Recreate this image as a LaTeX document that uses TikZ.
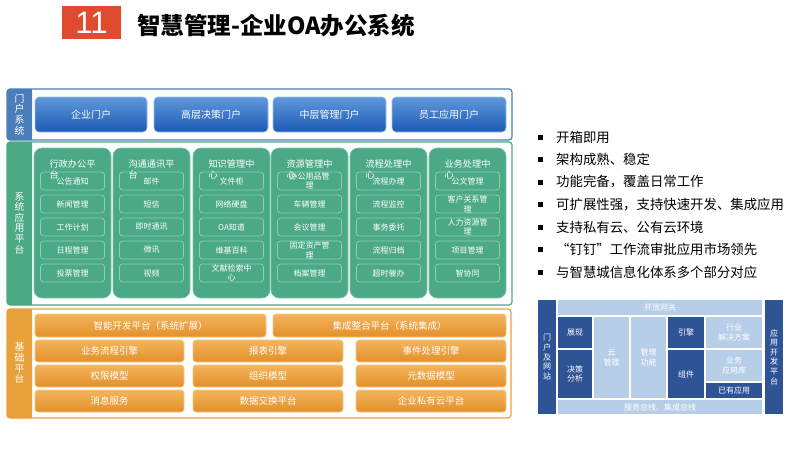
\documentclass[tikz,border=0pt]{standalone}
\usepackage{fontspec}
\setmainfont{Noto Sans CJK SC}
\newfontfamily\numfont{Liberation Sans}
\definecolor{hdred}{HTML}{E04B2F}
\definecolor{portc}{HTML}{4A7EBB}
\definecolor{porttop}{HTML}{5F98DA}
\definecolor{portbot}{HTML}{1C5AB6}
\definecolor{grc}{HTML}{4CA986}
\definecolor{grline}{HTML}{8AD3B2}
\definecolor{orc}{HTML}{E9A23B}
\definecolor{ortop}{HTML}{F3B45C}
\definecolor{orbot}{HTML}{E39029}
\definecolor{orline}{HTML}{F6C98A}
\definecolor{darkb}{HTML}{2F5496}
\definecolor{lightb}{HTML}{B7CEE8}
\tikzset{
  box/.style={anchor=north west, inner sep=0pt, outer sep=0pt, align=center},
  vlabel/.style={box, text=white, font=\fontsize{9.8}{10.6}\selectfont},
  portbtn/.style={box, rounded corners=4pt, top color=porttop, bottom color=portbot, draw=porttop!60!white, line width=0.6pt, text=white, font=\fontsize{10}{12}\selectfont},
  colbox/.style={box, rounded corners=8pt, fill=grc, draw=grline!70!grc, line width=0.6pt},
  coltitle/.style={anchor=north, inner sep=0pt, align=left, text=white, font=\fontsize{9.2}{11}\selectfont},
  itembox/.style={box, rounded corners=3pt, draw=grline, line width=0.7pt, text=white, font=\fontsize{8}{9.6}\selectfont},
  basebtn/.style={box, rounded corners=3pt, top color=ortop, bottom color=orbot, draw=orline, line width=0.6pt, text=white, font=\fontsize{9.5}{11}\selectfont},
  bsq/.style={inner sep=0pt, minimum size=5pt, fill=black},
  btxt/.style={anchor=west, inner sep=0pt, font=\fontsize{13.4}{15}\selectfont},
  dk/.style={box, fill=darkb, text=white, font=\fontsize{8}{9.6}\selectfont},
  lt/.style={box, fill=lightb, text=white, font=\fontsize{8}{9.6}\selectfont},
}
\begin{document}
\begin{tikzpicture}[x=1pt,y=-1pt]
\useasboundingbox[fill=white] (0,0) rectangle (800,450);
% header
\node[box, fill=hdred, minimum width=59pt, minimum height=33pt, text=white, font=\numfont\fontsize{31}{33}\selectfont] (hd) at (62,6) {11};
\node[anchor=west, inner sep=0pt, font=\bfseries\fontsize{23.5}{25}\selectfont] (title) at (137,26) {智慧管理-企业OA办公系统};

% portal frame
\fill[portc, rounded corners=3pt] (7,89) rectangle (32,140);
\fill[portc] (22,89) rectangle (32,140);
\draw[portc, line width=1.2pt, rounded corners=3pt] (7,89) rectangle (512,140);
\node[vlabel, anchor=center] (pl) at (19.5,114.5) {门\\户\\系\\统};
\node[portbtn, minimum width=112pt, minimum height=35pt] (p1) at (35,97) {企业门户};
\node[portbtn, minimum width=114pt, minimum height=35pt] (p2) at (154,97) {高层决策门户};
\node[portbtn, minimum width=113pt, minimum height=35pt] (p3) at (273,97) {中层管理门户};
\node[portbtn, minimum width=114pt, minimum height=35pt] (p4) at (392,97) {员工应用门户};

% application frame
\fill[grc, rounded corners=3pt] (7,142) rectangle (32,305);
\fill[grc] (22,142) rectangle (32,305);
\draw[grc, line width=1.2pt, rounded corners=3pt] (7,142) rectangle (512,305);
\node[vlabel, anchor=center] (al) at (19.5,223) {系\\统\\应\\用\\平\\台};

\foreach \n/\x/\t/\a/\b/\c/\d/\e in {
 1/34/{行政办公平\\台}/公告通知/新闻管理/工作计划/日程管理/投票管理,
 2/113/{沟通通讯平\\台}/邮件/短信/即时通讯/微讯/视频,
 3/193/{知识管理中\\心}/文件柜/网络硬盘/OA知道/维基百科/{文献检索中\\心},
 4/271/{资源管理中\\心}/{办公用品管\\理}/车辆管理/会议管理/{固定资产管\\理}/档案管理,
 5/350/{流程处理中\\心}/流程办理/流程监控/事务委托/流程归档/超时催办,
 6/429/{业务处理中\\心}/公文管理/{客户关系管\\理}/{人力资源管\\理}/项目管理/智协同}{
  \node[colbox, minimum width=77pt, minimum height=150pt] (col\n) at (\x,148) {};
  \node[itembox, minimum width=64pt, minimum height=18pt] (c\n i1) at (\x+6.5,172) {\a};
  \node[itembox, minimum width=64pt, minimum height=18pt] (c\n i2) at (\x+6.5,195) {\b};
  \node[itembox, minimum width=64pt, minimum height=18pt] (c\n i3) at (\x+6.5,218) {\c};
  \node[itembox, minimum width=64pt, minimum height=18pt] (c\n i4) at (\x+6.5,241) {\d};
  \node[itembox, minimum width=64pt, minimum height=18pt] (c\n i5) at (\x+6.5,264) {\e};
  \node[coltitle] (t\n) at (\x+38.5,159.5) {\t};
}

% base frame
\fill[orc, rounded corners=3pt] (7,309) rectangle (32,418);
\fill[orc] (22,309) rectangle (32,418);
\draw[orc, line width=1.2pt, rounded corners=3pt] (7,309) rectangle (511,418);
\node[vlabel, anchor=center] (bl) at (19.5,363) {基\\础\\平\\台};
\node[basebtn, minimum width=231pt, minimum height=23pt] (r1a) at (35,314) {智能开发平台（系统扩展）};
\node[basebtn, minimum width=233pt, minimum height=23pt] (r1b) at (273,314) {集成整合平台（系统集成）};
\node[basebtn, minimum width=149pt, minimum height=22pt] (r2a) at (35,340) {业务流程引擎};
\node[basebtn, minimum width=150pt, minimum height=22pt] (r2b) at (193,340) {报表引擎};
\node[basebtn, minimum width=150pt, minimum height=22pt] (r2c) at (356,340) {事件处理引擎};
\node[basebtn, minimum width=149pt, minimum height=22pt] (r3a) at (35,365) {权限模型};
\node[basebtn, minimum width=150pt, minimum height=22pt] (r3b) at (193,365) {组织模型};
\node[basebtn, minimum width=150pt, minimum height=22pt] (r3c) at (356,365) {元数据模型};
\node[basebtn, minimum width=149pt, minimum height=22pt] (r4a) at (35,390) {消息服务};
\node[basebtn, minimum width=150pt, minimum height=22pt] (r4b) at (193,390) {数据交换平台};
\node[basebtn, minimum width=150pt, minimum height=22pt] (r4c) at (356,390) {企业私有云平台};

% bullets
\foreach \k/\y/\s in {1/137/开箱即用, 2/159.5/架构成熟、稳定, 3/182/功能完备，覆盖日常工作, 4/204.5/可扩展性强，支持快速开发、集成应用, 5/227/支持私有云、公有云环境, 6/249.5/“钉钉”工作流审批应用市场领先, 7/272/与智慧城信息化体系多个部分对应}{
  \node[bsq] (sq\k) at (540.5,\y) {};
  \node[btxt] (bt\k) at (556,\y) {\s};
}

% small architecture diagram
\node[dk, minimum width=18pt, minimum height=114pt] (sl) at (538,300) {门\\户\\及\\网\\站};
\node[lt, minimum width=204pt, minimum height=15pt] (stop) at (558,300) {开放网关};
\node[lt, minimum width=204pt, minimum height=14pt] (sbot) at (558,400) {服务总线、集成总线};
\node[dk, minimum width=34pt, minimum height=31pt] (s1) at (558,317) {展现};
\node[dk, minimum width=34pt, minimum height=48pt] (s2) at (558,350) {决策\\分析};
\node[lt, minimum width=35pt, minimum height=81pt] (s3) at (594,317) {云\\管理};
\node[lt, minimum width=35pt, minimum height=81pt] (s4) at (631,317) {管理\\功能};
\node[dk, minimum width=36pt, minimum height=31pt] (s5) at (668,317) {引擎};
\node[dk, minimum width=36pt, minimum height=48pt] (s6) at (668,350) {组件};
\node[lt, minimum width=56pt, minimum height=31pt] (s7) at (706,317) {行业\\解决方案};
\node[lt, minimum width=56pt, minimum height=31pt] (s8) at (706,350) {业务\\应用库};
\node[dk, minimum width=56pt, minimum height=15pt] (s9) at (706,383) {已有应用};
\node[dk, minimum width=18pt, minimum height=114pt] (sr) at (765,300) {应\\用\\开\\发\\平\\台};
\end{tikzpicture}
\end{document}
